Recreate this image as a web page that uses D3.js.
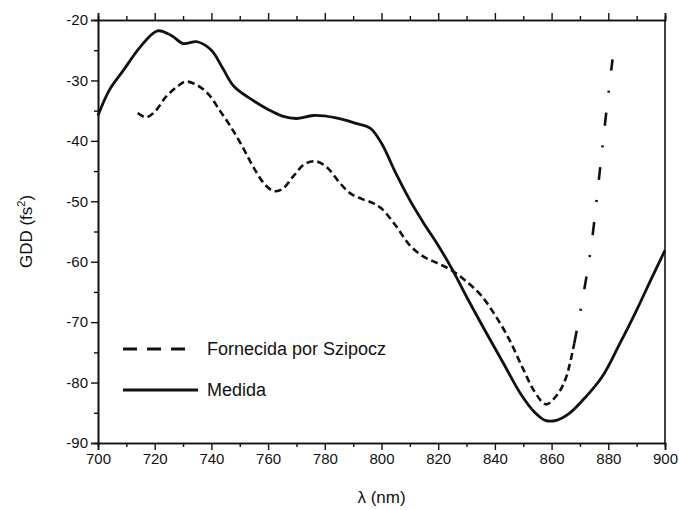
<!DOCTYPE html>
<html>
<head>
<meta charset="utf-8">
<script src="https://cdn.jsdelivr.net/npm/d3@7"></script>
<style>
  body { margin: 0; background: #fff; }
  text { font-family: "Liberation Sans", Arial, sans-serif; fill: #111; }
</style>
</head>
<body>
<svg id="chart"></svg>
<script>
// measured curve (solid)
var medidaX = [700, 704, 709, 715, 721, 726, 730, 735, 740, 744, 748, 755, 760, 765, 770, 776, 784, 791, 796, 800, 805, 810, 815, 820, 825, 830, 837, 843, 849, 854, 858, 862, 866, 872, 878, 884, 890, 895, 900];
var medidaY = [-35.8, -31.6, -28.3, -24.4, -21.8, -22.6, -23.9, -23.6, -25.0, -28.0, -31.0, -33.4, -34.8, -35.9, -36.3, -35.8, -36.2, -37.1, -37.9, -40.4, -45.3, -49.8, -53.7, -57.3, -61.3, -65.8, -71.8, -76.8, -81.8, -84.9, -86.3, -86.2, -85.2, -82.4, -78.9, -73.6, -68.0, -63.0, -58.1];

// supplied curve (dashed)
var szX = [714, 717, 720, 724, 728, 731, 735, 739, 743, 747, 751, 755, 759, 762, 765, 769, 773, 777, 781, 785, 789, 793, 797, 800, 805, 810, 815, 820, 825, 830, 835, 840, 845, 850, 854, 858, 862, 865, 868, 871, 874, 877, 879, 881.5];
var szY = [-35.4, -36.1, -35.2, -32.7, -31.0, -30.2, -30.8, -32.3, -35.0, -37.8, -41.0, -44.5, -47.3, -48.3, -48.0, -45.8, -43.8, -43.4, -44.5, -46.8, -48.7, -49.6, -50.3, -51.2, -54.0, -57.3, -59.2, -60.3, -61.5, -63.3, -65.5, -68.8, -72.8, -77.8, -81.5, -83.6, -82.0, -79.3, -73.5, -66.0, -57.3, -45.0, -36.5, -26.5];

var xTicks = [700, 720, 740, 760, 780, 800, 820, 840, 860, 880, 900];
var yTicks = [-20, -30, -40, -50, -60, -70, -80, -90];
var legendLabels = ["Fornecida por Szipocz", "Medida"];

var margin = {top: 20, right: 14, bottom: 67, left: 98},
  width = 679 - margin.left - margin.right,
  height = 510 - margin.top - margin.bottom;

var svg = d3.select("#chart")
  .attr("width", 679)
  .attr("height", 510);

var g = svg.append("g")
  .attr("transform", "translate(" + margin.left + "," + margin.top + ")");

var x = d3.scaleLinear().domain([700, 900]).range([0, width]);
var y = d3.scaleLinear().domain([-90, -20]).range([height, 0]);

var minorX = d3.range(710, 900, 20);
var minorY = d3.range(-85, -20, 10);

// plain hyphen for negatives, like the original
var fmt = function(d) { return String(d); };

// bottom axis
g.append("g")
  .attr("transform", "translate(0," + height + ")")
  .call(d3.axisBottom(x).tickValues(xTicks).tickSize(7).tickPadding(3).tickFormat(fmt));
g.append("g")
  .attr("transform", "translate(0," + height + ")")
  .call(d3.axisBottom(x).tickValues(minorX).tickSize(4).tickFormat(""));

// left axis
g.append("g")
  .call(d3.axisLeft(y).tickValues(yTicks).tickSize(7).tickPadding(3).tickFormat(fmt));
g.append("g")
  .call(d3.axisLeft(y).tickValues(minorY).tickSize(4).tickFormat(""));

// top axis
g.append("g")
  .call(d3.axisTop(x).tickValues(xTicks).tickSize(7).tickFormat(""));
g.append("g")
  .call(d3.axisTop(x).tickValues(minorX).tickSize(4).tickFormat(""));

// right edge
g.append("line")
  .attr("x1", width).attr("x2", width)
  .attr("y1", 0).attr("y2", height)
  .attr("stroke", "#111").attr("stroke-width", 1.6);

g.selectAll(".domain").attr("stroke", "#111").attr("stroke-width", 1.6);
g.selectAll(".tick line").attr("stroke", "#111").attr("stroke-width", 1.4);
g.selectAll(".tick text")
  .style("font-size", "15px")
  .style("font-family", "'Liberation Sans', Arial, sans-serif")
  .attr("fill", "#111");

var line = d3.line()
  .x(function(d) { return x(d[0]); })
  .y(function(d) { return y(d[1]); })
  .curve(d3.curveCatmullRom.alpha(0.5));

var medida = medidaX.map(function(v, i) { return [v, medidaY[i]]; });
var sz = szX.map(function(v, i) { return [v, szY[i]]; });

g.append("path")
  .datum(medida)
  .attr("fill", "none")
  .attr("stroke", "#111")
  .attr("stroke-width", 2.8)
  .attr("d", line);

// dashed part, then dash-dot on the steep rise
var split = szX.indexOf(868);
g.append("path")
  .datum(sz.slice(0, split + 1))
  .attr("fill", "none")
  .attr("stroke", "#111")
  .attr("stroke-width", 2.6)
  .attr("stroke-dasharray", "7,4")
  .attr("d", line);

g.append("path")
  .datum(sz.slice(split))
  .attr("fill", "none")
  .attr("stroke", "#111")
  .attr("stroke-width", 2.6)
  .attr("stroke-dasharray", "13,20,2,20")
  .attr("d", line);

// legend
var leg = g.append("g").attr("transform", "translate(25,329)");
leg.append("line")
  .attr("x1", 0).attr("x2", 72).attr("y1", 0).attr("y2", 0)
  .attr("stroke", "#111").attr("stroke-width", 2.8)
  .attr("stroke-dasharray", "14,10");
leg.append("line")
  .attr("x1", 0).attr("x2", 75).attr("y1", 41).attr("y2", 41)
  .attr("stroke", "#111").attr("stroke-width", 2.8);
leg.selectAll("text.lbl")
  .data(legendLabels)
  .enter().append("text")
  .attr("class", "lbl")
  .attr("x", 84)
  .attr("y", function(d, i) { return i * 41 + 6; })
  .style("font-size", "18px")
  .text(function(d) { return d; });

// axis titles
svg.append("text")
  .attr("x", margin.left + width / 2)
  .attr("y", 503)
  .style("text-anchor", "middle")
  .style("font-size", "17px")
  .text("λ (nm)");

var yt = svg.append("text")
  .attr("transform", "translate(32," + (margin.top + height / 2) + ") rotate(-90)")
  .style("text-anchor", "middle")
  .style("font-size", "17px");
yt.append("tspan").text("GDD (fs");
yt.append("tspan").attr("dy", "-7").style("font-size", "11px").text("2");
yt.append("tspan").attr("dy", "7").text(")");
</script>
</body>
</html>
